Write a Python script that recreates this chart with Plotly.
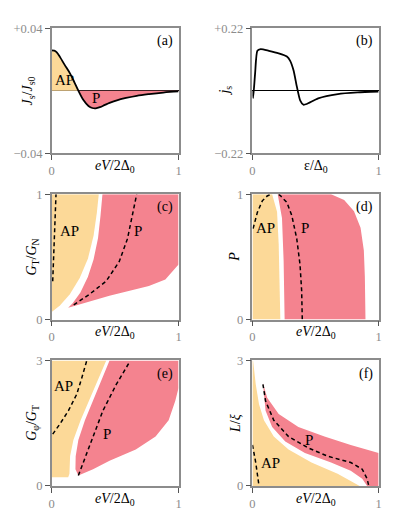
import plotly.graph_objects as go

# ---------------- data ----------------
# (a) spin current J_s/J_s0 vs eV/2Δ0
a_x = [0, 0.02, 0.04, 0.067, 0.1, 0.145, 0.18, 0.21, 0.25, 0.29, 0.32, 0.347, 0.38, 0.42,
       0.456, 0.52, 0.586, 0.67, 0.767, 0.88, 1.0]
a_y = [0.0258, 0.0256, 0.0245, 0.0213, 0.0168, 0.0109, 0.0052, 0.0, -0.006, -0.0098, -0.0111,
       -0.0113, -0.0106, -0.0091, -0.0078, -0.006, -0.0047, -0.0033, -0.0022, -0.0012, -0.0005]

# (b) spectral spin current j_s vs ε/Δ0
b_x = [0, 0.005, 0.021, 0.039, 0.065, 0.13, 0.208, 0.273, 0.299, 0.326, 0.352, 0.378, 0.404,
       0.43, 0.521, 0.677, 0.833, 1.0]
b_y = [0, -0.0265, 0.061, 0.140, 0.146, 0.140, 0.131, 0.120, 0.105, 0.071, 0.014, -0.034,
       -0.0495, -0.047, -0.027, -0.012, -0.0063, -0.003]

# (c) G_T/G_N
c_ap_x = [0, 0, 0.371, 0.356, 0.330, 0.286, 0.221, 0.143, 0.065, 0.02, 0]
c_ap_y = [0.06, 1, 1, 0.852, 0.670, 0.488, 0.332, 0.203, 0.112, 0.075, 0.06]
c_p_x = [0.13, 0.165, 0.225, 0.285, 0.33, 0.365, 0.385, 0.40, 1, 1, 0.896, 0.766, 0.455, 0.13]
c_p_y = [0.094, 0.13, 0.215, 0.34, 0.48, 0.65, 0.83, 1, 1, 0.44, 0.319, 0.268, 0.19, 0.094]
c_apd_x = [0.008, 0.013, 0.021, 0.029, 0.034]
c_apd_y = [0.306, 0.462, 0.722, 0.904, 1.0]
c_pd_x = [0.174, 0.299, 0.429, 0.532, 0.597, 0.642, 0.670]
c_pd_y = [0.117, 0.203, 0.306, 0.462, 0.644, 0.852, 1.0]

# (d) polarization P
d_ap_x = [0, 0, 0.156, 0.195, 0.208, 0.216, 0.221, 0]
d_ap_y = [0, 1, 1, 0.86, 0.60, 0.34, 0, 0]
d_p_x = [0.255, 0.247, 0.234, 0.2, 0.623, 0.727, 0.805, 0.857, 0.883, 0.891, 0.896, 0.255]
d_p_y = [0, 0.47, 0.81, 1, 1, 0.955, 0.864, 0.734, 0.551, 0.342, 0, 0]
d_apd_x = [0.005, 0.039, 0.078, 0.117, 0.143]
d_apd_y = [0.726, 0.856, 0.948, 0.987, 1.0]
d_pd_x = [0.208, 0.221, 0.273, 0.312, 0.351, 0.377, 0.390, 0.395]
d_pd_y = [1.0, 0.99, 0.935, 0.830, 0.647, 0.439, 0.230, 0.0]

# (e) G_phi/G_T
e_ap_x = [0, 0, 0.430, 0.358, 0.288, 0.228, 0.171, 0.145, 0.140, 0.13, 0]
e_ap_y = [0.21, 3, 3, 2.50, 1.99, 1.57, 1.10, 0.71, 0.29, 0.21, 0.21]
e_p_x = [0.21, 0.187, 0.189, 0.210, 0.262, 0.326, 0.391, 0.456, 1, 1, 0.974, 0.922,
         0.819, 0.663, 0.456, 0.326, 0.21]
e_p_y = [0.25, 0.40, 0.71, 1.10, 1.57, 2.03, 2.50, 3, 3, 2.34, 2.03, 1.57,
         1.18, 0.87, 0.60, 0.40, 0.25]
e_apd_x = [0.008, 0.067, 0.132, 0.197, 0.236, 0.275]
e_apd_y = [1.24, 1.49, 1.80, 2.19, 2.57, 2.98]
e_pd_x = [0.21, 0.30, 0.404, 0.508, 0.617]
e_pd_y = [0.25, 0.95, 1.80, 2.42, 2.98]

# (f) L/xi
f_ap_x = [0, 0, 0.005, 0.026, 0.052, 0.091, 0.169, 0.286, 0.468, 0.675, 0.85, 0]
f_ap_y = [0, 3, 3, 2.43, 1.95, 1.57, 1.18, 0.87, 0.56, 0.29, 0, 0]
f_p_x = [0.083, 0.117, 0.208, 0.364, 0.571, 0.779, 1.0, 1.0, 0.909, 0.87, 0.779, 0.623,
         0.416, 0.26, 0.156, 0.104, 0.083]
f_p_y = [2.46, 2.11, 1.72, 1.41, 1.18, 0.98, 0.79, 0, 0, 0.17, 0.364, 0.56,
         0.79, 1.06, 1.41, 1.80, 2.46]
f_pd_x = [0.083, 0.104, 0.169, 0.286, 0.442, 0.597, 0.779, 0.87, 0.909, 0.922]
f_pd_y = [2.43, 2.03, 1.57, 1.18, 0.91, 0.71, 0.56, 0.40, 0.17, 0.0]
f_apd_x = [0, 0.026, 0.052]
f_apd_y = [0.98, 0.56, 0.0]

# ---------------- style ----------------
ORANGE = "#FCD998"
PINK = "#F4838F"
FONT = "Liberation Serif, DejaVu Serif, serif"
GRAY = "#8c8c8c"

fig = go.Figure()


def ax(i, s):
    return s if i == 1 else f"{s}{i}"


def add(tr, i):
    tr.update(xaxis=ax(i, "x"), yaxis=ax(i, "y"), showlegend=False, hoverinfo="skip")
    fig.add_trace(tr)


def region(x, y, color, i):
    add(go.Scatter(x=x, y=y, mode="lines", fill="toself", fillcolor=color,
                   line=dict(width=0, color=color)), i)


def dashed(x, y, i):
    add(go.Scatter(x=x, y=y, mode="lines", line=dict(color="black", width=1.5, dash="4px,3px")), i)


# (a)
ap_idx = [k for k, v in enumerate(a_x) if v <= 0.21]
p_idx = [k for k, v in enumerate(a_x) if v >= 0.21]
add(go.Scatter(x=[a_x[k] for k in ap_idx], y=[a_y[k] for k in ap_idx], mode="lines",
               fill="tozeroy", fillcolor=ORANGE, line=dict(width=0)), 1)
add(go.Scatter(x=[a_x[k] for k in p_idx], y=[a_y[k] for k in p_idx], mode="lines",
               fill="tozeroy", fillcolor=PINK, line=dict(width=0)), 1)
add(go.Scatter(x=a_x, y=a_y, mode="lines", line=dict(color="black", width=1.8, shape="spline")), 1)

# (b)
add(go.Scatter(x=b_x, y=b_y, mode="lines", line=dict(color="black", width=1.8, shape="spline",
                                                     smoothing=0.6)), 2)

# (c)
region(c_ap_x, c_ap_y, ORANGE, 3)
region(c_p_x, c_p_y, PINK, 3)
dashed(c_apd_x, c_apd_y, 3)
dashed(c_pd_x, c_pd_y, 3)

# (d)
region(d_ap_x, d_ap_y, ORANGE, 4)
region(d_p_x, d_p_y, PINK, 4)
dashed(d_apd_x, d_apd_y, 4)
dashed(d_pd_x, d_pd_y, 4)

# (e)
region(e_ap_x, e_ap_y, ORANGE, 5)
region(e_p_x, e_p_y, PINK, 5)
dashed(e_apd_x, e_apd_y, 5)
dashed(e_pd_x, e_pd_y, 5)

# (f)
region(f_ap_x, f_ap_y, ORANGE, 6)
region(f_p_x, f_p_y, PINK, 6)
dashed(f_pd_x, f_pd_y, 6)
dashed(f_apd_x, f_apd_y, 6)

# ---------------- axes ----------------
W, H = 415, 519
cols = [(41.3, 170), (245, 373)]
rows = [(13.5, 142), (184.3, 313), (355, 484)]

yinfo = {
    1: ([-0.04, 0.04], ["\u22120.04", "+0.04"], [-0.04, 0.04]),
    2: ([-0.22, 0.22], ["\u22120.22", "+0.22"], [-0.22, 0.22]),
    3: ([0, 1], ["0", "1"], [0, 1]),
    4: ([0, 1], ["0", "1"], [0, 1]),
    5: ([0, 3], ["0", "3"], [0, 3]),
    6: ([0, 3], ["0", "3"], [0, 3]),
}

layout = dict(width=W, height=H, margin=dict(l=0, r=0, t=0, b=0),
              paper_bgcolor="white", plot_bgcolor="white",
              font=dict(family=FONT, color="black"))
for i in range(1, 7):
    r = (i - 1) // 2
    c = (i - 1) % 2
    x0, x1 = cols[c]
    y0, y1 = rows[r]
    tv, tt, rng = yinfo[i]
    common = dict(showgrid=False, showline=True, linecolor=GRAY, linewidth=1.5, mirror=True,
                  ticks="outside", ticklen=5, tickwidth=1, tickcolor="#555",
                  tickfont=dict(family=FONT, size=12.5, color=GRAY), layer="above traces")
    layout["xaxis" + ("" if i == 1 else str(i))] = dict(
        domain=[x0 / W, x1 / W], range=[0, 1], tickvals=[0, 1], ticktext=["0", "1"],
        anchor=ax(i, "y"), zeroline=False, **common)
    layout["yaxis" + ("" if i == 1 else str(i))] = dict(
        domain=[1 - y1 / H, 1 - y0 / H], range=rng, tickvals=tv, ticktext=tt,
        anchor=ax(i, "x"), zeroline=(i <= 2), zerolinecolor="black", zerolinewidth=1, **common)

fig.update_layout(**layout)

# ---------------- text ----------------
xt = {1: "<i>eV</i>/2\u0394<sub>0</sub>", 2: "\u03b5/\u0394<sub>0</sub>",
      3: "<i>eV</i>/2\u0394<sub>0</sub>", 4: "<i>eV</i>/2\u0394<sub>0</sub>",
      5: "<i>eV</i>/2\u0394<sub>0</sub>", 6: "<i>eV</i>/2\u0394<sub>0</sub>"}
yt = {1: "<i>J</i><sub>s</sub>/<i>J</i><sub>s0</sub>", 2: "<i>j</i><sub>s</sub>",
      3: "<i>G</i><sub>T</sub>/<i>G</i><sub>N</sub>", 4: "<i>P</i>",
      5: "<i>G</i><sub>\u03c6</sub>/<i>G</i><sub>T</sub>", 6: "<i>L</i>/<i>\u03be</i>"}
ytx = {1: -0.18, 2: -0.21, 3: -0.15, 4: -0.14, 5: -0.15, 6: -0.14}
plabel = {1: "(a)", 2: "(b)", 3: "(c)", 4: "(d)", 5: "(e)", 6: "(f)"}

ann = []
for i in range(1, 7):
    xr = ax(i, "x") + " domain"
    yr = ax(i, "y") + " domain"
    ann.append(dict(text=xt[i], xref=xr, yref=yr, x=0.5, y=-0.105, xanchor="center",
                    yanchor="middle", showarrow=False, font=dict(size=14)))
    ann.append(dict(text=yt[i], xref=xr, yref=yr, x=ytx[i], y=0.5, xanchor="center",
                    yanchor="middle", textangle=-90, showarrow=False, font=dict(size=14)))
    ann.append(dict(text=plabel[i], xref=xr, yref=yr, x=0.975, y=0.975, xanchor="right",
                    yanchor="top", showarrow=False, font=dict(size=14)))

region_labels = [
    (1, 0.10, 0.0065, "AP"), (1, 0.35, -0.0048, "P"),
    (3, 0.14, 0.71, "AP"), (3, 0.68, 0.71, "P"),
    (4, 0.10, 0.73, "AP"), (4, 0.42, 0.73, "P"),
    (5, 0.095, 2.38, "AP"), (5, 0.435, 1.24, "P"),
    (6, 0.14, 0.56, "AP"), (6, 0.45, 1.10, "P"),
]
for i, x, y, t in region_labels:
    ann.append(dict(text=t, xref=ax(i, "x"), yref=ax(i, "y"), x=x, y=y, xanchor="center",
                    yanchor="middle", showarrow=False, font=dict(size=15)))

fig.update_layout(annotations=ann)
fig.write_html("out.html")
